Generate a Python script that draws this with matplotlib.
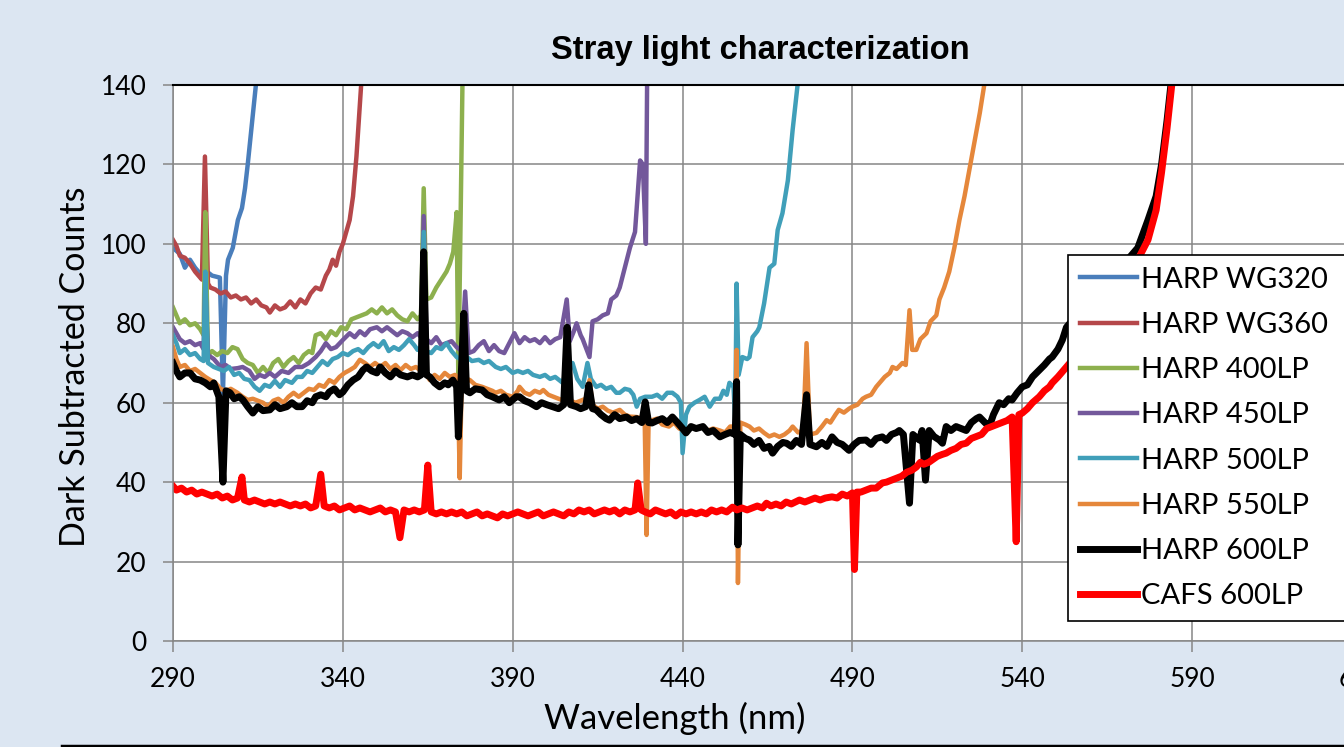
import matplotlib
matplotlib.use("Agg")
import matplotlib.pyplot as plt
from matplotlib.lines import Line2D

# --- data (wavelength nm, dark subtracted counts) ---
wg320_wl = [290, 292, 293.5, 295, 296.5, 298, 300, 301.5, 303.8, 304.7, 305.6, 306.2, 307.6, 309.1,
            310.3, 311.2, 312, 313.2, 314.4, 315.5]
wg320_val = [99, 97.5, 94, 96, 94, 92.5, 93, 92, 91.5, 62, 92, 96, 99, 106, 109, 114, 120, 130, 140, 148]

wg360_wl = [290, 291, 292, 293.5, 295, 296.5, 297.5, 298.5, 299.4, 300.3, 301, 302.5, 304, 305.5, 307,
            308.5, 310, 311.5, 313, 314.5, 316, 317.5, 318.5, 320, 321.5, 323, 324.5, 326, 327.5, 329,
            330.5, 332, 333.5, 335, 336, 337, 338, 339, 340, 341, 342, 343, 344, 345, 346]
wg360_val = [101, 99.5, 97, 96.5, 95, 93, 92, 91, 122, 90, 89, 88.5, 87.5, 88, 86.5,
             87, 86, 86.5, 85, 86, 84.5, 84, 82.7, 84.5, 83.5, 84, 85.5, 84, 86, 85,
             87.5, 89, 88.5, 92, 93.5, 96, 94.5, 98, 100, 103, 106, 112, 122, 135, 148]

lp400_wl = [290, 291, 292, 293.5, 295, 296.5, 298, 299, 299.5, 300.3, 301.5, 303, 304.5, 306, 307.5,
            309, 310.5, 312, 313.5, 315, 316.5, 318, 319.5, 321, 322.5, 324, 325.5, 327, 328.5, 330,
            331, 332, 333.5, 335, 336.5, 338, 339.5, 341, 342.5, 344, 345.5, 347, 348.5, 350, 351.5,
            353, 354.5, 356, 357.5, 359, 360.5, 362, 363, 363.8, 364.6, 366, 367.5, 369, 370.5, 371.5,
            372.5, 373.5, 374, 375.2, 376]
lp400_val = [84, 82, 80, 81, 79.5, 80, 78.5, 77, 108, 72, 73, 72, 73, 72.5, 74,
             73.5, 71, 70, 69.5, 67.5, 69, 67.5, 70, 71, 69, 70.5, 71.5, 70, 72, 73,
             72.5, 77, 77.5, 76, 78, 77, 79, 78.5, 81, 81.5, 82, 82.5, 83.5, 82.5, 84,
             82.5, 83.5, 82, 81, 80.5, 82.5, 81, 82, 114, 86, 86.5, 89, 91, 93, 95,
             98, 108, 65, 140, 160]

lp450_wl = [290, 291, 292, 293.5, 295, 296.5, 298, 299, 299.5, 300.3, 302, 304, 305.5, 307, 309,
            310.5, 312.5, 314, 315.5, 317, 318.5, 320, 322, 324, 326, 328, 330, 332, 333.5, 335,
            336.5, 338, 340, 342, 343.5, 345, 346.5, 348, 350, 351.5, 353, 354.5, 356, 357.5, 359,
            360.5, 362, 363, 363.8, 364.6, 366, 367.5, 369, 370.5, 372, 373.5, 375, 376, 377, 378.5,
            380, 381.5, 383, 384.5, 386, 387.5, 389, 390.5, 392, 393.5, 395, 396.5, 398, 399.5, 401,
            402.5, 404, 405.9, 406.8, 408, 408.8, 410, 410.6, 412.6, 413.5, 415, 416.5, 418, 419, 420.5,
            421.5, 423, 424.5, 426, 427.5, 428.3, 429.2, 429.6]
lp450_val = [79, 77.5, 76, 75, 75.5, 74.5, 75, 73.5, 90, 72, 71, 69, 69.5, 68.5, 68.7,
             69, 68, 66, 67, 66.5, 67.5, 66.5, 68, 67.5, 69, 69, 70, 71.5, 73, 75,
             73.5, 74, 75.8, 77.5, 76.5, 78, 77, 78.5, 79, 78, 79, 78, 77, 78, 77.5,
             76.5, 77.5, 76.5, 107, 76, 75, 76.5, 74.5, 75, 75.5, 74, 73, 88, 72.5, 73,
             74.5, 75.5, 73, 74.5, 73, 72.5, 75, 77.5, 75, 76.5, 75.5, 76, 75, 76.5, 75,
             76, 76.5, 86, 75.5, 78, 80, 77, 76, 71.5, 80.5, 81, 82, 82.5, 86, 87,
             89, 94, 99, 103, 121, 120, 100, 145]

lp500_wl = [290, 291, 292, 293.5, 295, 296.5, 298, 299, 299.5, 300.3, 302, 303.5, 305, 306.5, 308,
            309.5, 311, 312.5, 314, 315.5, 317, 318.5, 320, 321.5, 323, 325, 326.5, 328, 329.5, 331,
            332.5, 334, 335.5, 337, 338.5, 340, 341.5, 343, 344.5, 346, 347.5, 349, 350.5, 352, 353.5,
            355, 356.5, 358, 359.5, 361, 362, 363, 363.8, 364.6, 366, 367.5, 369, 370.5, 372, 373.5,
            375, 376.5, 378, 380, 381.5, 383, 385, 386.5, 388, 390, 391.5, 393, 394.5, 396, 398,
            399.5, 401, 402.5, 404.7, 406, 407.6, 409, 410.6, 412, 413, 414.6, 416, 417.5, 419, 420.5,
            421.5, 423, 424.4, 425.5, 426.5, 427.5, 429, 431, 432.5, 434, 435.5, 437, 438.5, 439.5, 440,
            441, 442, 443.5, 445, 446.5, 448, 449.5, 451, 452, 453, 453.8, 455, 455.5, 455.9, 456.5,
            457.6, 459, 459.7, 460.6, 462, 462.6, 464, 465.6, 467, 468, 469.4, 471, 472.4, 473.8, 475]
lp500_val = [77, 75, 72.5, 73.5, 72, 72.5, 71, 70.5, 93, 70, 69, 68.5, 68, 69, 67,
             67.5, 66, 65.7, 64, 63, 64.5, 64, 65.5, 64, 65.7, 65, 66.5, 66.5, 68, 67.5,
             69, 70.5, 69.5, 71, 71.5, 72.5, 72, 73, 73.5, 72.5, 74, 75, 74, 75.5, 73,
             74, 73.3, 74.5, 76, 74.5, 73.3, 74, 103, 73, 72.5, 74, 73.5, 75, 73, 71.5,
             70.8, 71.5, 70.5, 70.8, 70, 70.5, 69, 68.5, 69, 67.5, 68, 67.5, 68, 67, 66.5,
             67, 66, 66.5, 65, 69, 70, 66, 64, 70, 66, 64, 64.5, 63.5, 64, 62.5,
             62.5, 63.5, 63.2, 62, 59, 61, 61.5, 61.5, 62, 61, 62.5, 62.5, 61.5, 60, 47.3,
             57, 59, 60, 60.7, 61.5, 59, 61, 61, 63, 62, 65, 64, 55, 90, 67,
             71.5, 71, 71.5, 76.5, 78, 79, 85, 94, 95, 103.5, 107.7, 116, 128.7, 139.6, 150]

lp550_wl = [290, 291, 292, 293.5, 295, 296.5, 298, 299.5, 301, 302.5, 304, 305.5, 307, 309, 310.5,
            312, 313.5, 315, 316.5, 318, 319.5, 321, 322.5, 324, 325.5, 327, 328.5, 330, 331.5, 333,
            334.5, 336, 337.5, 339, 340.5, 342, 343.5, 345, 346.5, 348, 349.5, 351, 352.5, 354, 355.5,
            357, 358.5, 360, 361.5, 363, 363.8, 364.6, 365.6, 367, 368.5, 370, 371.5, 373, 373.8, 374.4,
            375, 375.6, 376.5, 377.4, 379, 381, 382.5, 384, 385, 386.5, 388, 390, 391.5, 392, 393.5,
            395, 396.5, 398, 399, 400.5, 402, 403.5, 405, 406, 407, 408.5, 410, 411.5, 412.6, 413.5,
            415, 416.5, 418, 419.5, 421.5, 423, 424.5, 426.5, 428, 428.8, 429.4, 430, 431, 432.5, 434,
            436, 437.5, 439, 441, 442.5, 444, 446, 447.5, 449, 451, 452.5, 454, 455.5, 455.9, 456.3,
            457, 458.5, 459.7, 461, 462.5, 464, 465.5, 467, 468.5, 470, 471.5, 472.4, 474, 475.5, 476.5,
            477.5, 479.4, 481, 482.4, 483.5, 485, 486, 487.5, 489, 490, 491.5, 493, 494, 495.5, 497,
            498, 499.5, 501, 501.8, 503, 504.7, 505.7, 506.8, 507.6, 508.8, 510, 511.8, 513, 514.7, 515.6,
            517, 518.5, 520, 521.5, 523, 524.4, 526, 527.5, 528.8, 530]
lp550_val = [74, 71, 69, 69.5, 68, 68.5, 67.5, 66.5, 65.7, 65, 63.5, 63, 63.5, 62.5, 61.5,
             60.7, 61, 60.5, 60, 59, 60.5, 61, 60, 61.5, 62.5, 61.5, 62.5, 63.5, 63.2, 64.5,
             64, 65.7, 65, 66.5, 67.5, 68.2, 69, 70.8, 70, 69, 70, 69, 70, 68.5, 69.5,
             68.2, 69.5, 68.5, 69, 68, 97, 67, 65.7, 67, 66, 67.5, 66.5, 67, 66.5, 41,
             66, 80, 66, 65.7, 64.5, 64, 63.5, 63, 62.5, 63, 62, 61.5, 63, 64, 62.5,
             62, 63, 62.5, 63.2, 62, 61.5, 61, 60.5, 76, 60.5, 60, 60.5, 61, 65.7, 59.5,
             58.5, 59, 58, 57.5, 58.2, 57, 56.5, 56.4, 56, 58, 26.7, 55, 55.6, 56, 54.5,
             54, 55, 53.5, 53, 54, 53.5, 54, 53, 53.5, 53, 52.5, 54, 54, 73.3, 14.6,
             55, 54.5, 54, 53, 53.5, 52.4, 51.5, 52, 51.4, 52, 53, 54, 52.5, 53, 75,
             52, 52.4, 54, 55.6, 55, 57, 58.2, 57.5, 58.5, 59, 59.5, 61, 61.5, 62, 64,
             65, 66.5, 67.5, 69, 68.5, 70, 69.5, 83.3, 73.3, 73.3, 76, 77.5, 80.5, 82, 86,
             89, 93, 99, 106, 112, 118.6, 126, 133, 140, 147]

lp600_wl = [290, 291, 292, 293.5, 295, 296.5, 298, 299.5, 301, 302, 303.5, 304.7, 305.6, 306.8, 308,
            309.5, 310.6, 312, 313.5, 315, 316.5, 318.5, 320, 321.5, 323.5, 325, 326.5, 328, 329.5, 331,
            332, 333.5, 335, 336, 337.5, 339, 340, 341.5, 343, 344.5, 345.9, 347, 348.5, 350, 351,
            352.5, 354, 355.5, 357, 359, 360.5, 362, 363, 363.8, 364.6, 365.6, 367, 368.5, 370, 371,
            372.4, 373.5, 374, 374.7, 375.6, 376.4, 377.4, 379, 381, 382.5, 384, 386, 387.5, 389, 391,
            392, 393.5, 395, 397, 398.5, 400, 401.8, 403.5, 405, 406, 407, 408.8, 410, 411.5, 412.4,
            413.5, 414.6, 416, 417.5, 418.5, 420, 421.5, 423.5, 425, 426.5, 428, 429, 430, 431, 432.5,
            434, 435.5, 437, 438.5, 440, 441, 442.5, 444, 446, 447.5, 449, 451, 452.5, 454, 455.5,
            455.9, 456.3, 457, 458.5, 459.7, 461, 462.5, 464, 465.5, 466.5, 468, 469.5, 470.6, 472, 473.5,
            475, 476.5, 477.5, 479.4, 481, 482.5, 484, 485.5, 487, 489, 490.5, 492, 494, 495.5, 497,
            498.8, 500, 501.5, 503, 503.8, 505, 506.8, 507.8, 509.7, 510.5, 511.5, 512.6, 514, 515.6, 516.5,
            517.6, 519, 520.5, 522, 523.5, 525, 526.5, 527.4, 529, 530.3, 531.5, 533.2, 534.5, 536, 537,
            538.5, 540, 541.5, 543, 545, 546.5, 548, 548.8, 550.5, 551.8, 553, 556, 560, 565, 570,
            574, 577, 579.4, 581, 582.6, 584, 586]
lp600_val = [70, 68, 66.5, 67.5, 67.5, 66, 65.7, 65, 64, 65, 61.5, 40, 63, 62.5, 61,
             61.5, 60.7, 59, 57.4, 59, 58, 58.2, 59.5, 58.5, 59, 60, 59, 59, 60.5, 60,
             61.5, 62, 61.5, 62.7, 63.5, 62, 62.7, 64.5, 65.7, 66.5, 68.2, 69, 68, 67.5, 69,
             67.5, 66.5, 68, 67, 66.5, 67, 66.5, 67, 98, 67, 66.5, 65, 64, 65, 64.5,
             65.7, 64, 51.4, 64, 82.5, 63, 62.5, 63.5, 63.2, 62, 61.5, 60.7, 61.5, 60, 61.5,
             61.5, 60.5, 60, 59, 60, 59.5, 59, 58.5, 59.5, 79, 59.5, 59, 58.5, 59, 64.5,
             58.5, 58.2, 57, 56, 55.6, 57, 56, 56.4, 55.5, 56, 55, 60.2, 55, 54.9, 55.5,
             56, 55, 56.4, 55, 53.5, 52.4, 54, 53.5, 54, 52.5, 53, 51.4, 52, 52.5, 52,
             65.3, 24.2, 52, 51, 50.6, 49.5, 50.5, 48.5, 49, 47.3, 49, 50, 49.8, 49, 50.5,
             49.5, 62, 49.5, 48.9, 50, 49, 51.4, 50, 49.5, 48, 49.5, 50.5, 50.6, 49.5, 51,
             51.4, 50.5, 52, 52.5, 53, 52, 34.7, 52, 50.6, 53, 40.5, 53, 51.5, 50.6, 49.8,
             54, 53, 54, 53.5, 53, 55, 56, 56.4, 55, 54, 57, 60, 59.5, 61, 60.7,
             62.5, 64, 64.5, 66.5, 68.2, 69.5, 71, 71.5, 73.5, 75.8, 79, 82, 86, 91, 95,
             99, 106, 112, 120, 131, 142, 154]

cafs_wl = [290, 291, 292.5, 294, 295.5, 297, 298.5, 300, 301.5, 303, 304.5, 306, 307.5, 309, 310.3,
           311, 312.5, 314, 315.5, 317, 318.5, 320, 321.5, 323, 324.5, 326, 327.5, 329, 330.5, 332,
           333.5, 334.5, 336, 337.5, 339, 340.5, 342, 343.5, 345, 346.5, 348, 349.5, 351, 352.5, 354,
           355.5, 356.8, 358, 359.5, 361, 362.5, 364, 365, 366, 367.5, 369, 370.5, 372, 373.5, 375,
           376.5, 378, 379.5, 381, 382.5, 384, 385.5, 387, 388.5, 390, 391.5, 393, 394.5, 396, 397.5,
           399, 400.5, 402, 403.5, 405, 406.5, 408, 409.5, 411, 412.5, 414, 415.5, 417, 418.5, 420,
           421.5, 423, 424.5, 426, 426.8, 427.8, 429, 430.5, 432, 433.5, 435, 436.5, 438, 439.5, 441,
           442.5, 444, 445.5, 447, 448.5, 450, 451.5, 453, 454.7, 456, 457.5, 459, 460.5, 462, 463.5,
           464.7, 466, 467.5, 469, 470.5, 472, 474.4, 476, 477.5, 479, 480.5, 482, 484, 485.5, 487,
           488.5, 490, 490.6, 491.3, 492.5, 494, 495.5, 497, 498.8, 500, 501.5, 503, 504.5, 506, 507.5,
           508.8, 510, 511, 512.5, 513.5, 515, 516.5, 517.6, 519, 520.5, 522, 523.5, 525, 526.5, 528,
           529.5, 531, 532.5, 534, 535.5, 537, 538.2, 539, 540, 541.5, 543, 545, 546.5, 548, 548.8,
           550.5, 552, 553, 556, 560, 565, 570, 574, 577, 579.4, 581, 582.6, 584, 586]
cafs_val = [39, 38, 38.5, 37.5, 38, 37, 37.5, 37, 36.5, 37, 36, 36.5, 35.5, 36, 41.3,
            35.5, 35, 35.5, 35, 34.5, 35, 34.5, 35, 34.5, 34, 34.5, 34, 34.5, 33.5, 34,
            42, 34, 33.5, 34, 33, 33.5, 34, 33, 33.5, 33, 32.5, 33, 33.5, 32.5, 33,
            32.5, 26, 33, 32.5, 33, 32.5, 33, 44.3, 32.5, 32, 32.5, 32, 32.5, 32, 32.5,
            31.5, 32, 32.5, 31.5, 32, 31.5, 31, 32, 31.5, 32, 32.5, 32, 31.5, 32, 32.5,
            31.5, 32, 32.5, 32, 31.5, 32.5, 32, 33, 32.5, 33, 32, 32.5, 33, 32.5, 33,
            32, 33, 32.5, 33, 39.8, 33, 32.5, 32, 33, 32.5, 32, 32.5, 31.5, 32.5, 32,
            32.5, 32, 32.5, 32, 33, 32.5, 33, 32.5, 33.7, 33, 33.5, 33, 33.5, 34, 33.5,
            34.7, 34, 34.5, 34, 35, 34.5, 35.5, 35, 35.5, 36, 35.5, 36, 36.3, 36, 37,
            36.5, 37.3, 18, 37.5, 37.5, 38, 38.5, 38.5, 39.8, 40, 40.5, 41, 41.5, 42.5, 43,
            43.8, 45, 44.5, 45, 45.6, 46.5, 47, 47.3, 48, 48.5, 49.5, 49.8, 51, 51.5, 52,
            53.5, 54, 54.5, 55, 55.5, 56.4, 25, 57, 57.4, 58.5, 60, 61.5, 63, 64, 65,
            66.5, 68, 69, 72, 77, 84, 90, 96, 101, 108.5, 118, 129, 140, 152]

series_names = ["HARP WG320", "HARP WG360", "HARP 400LP", "HARP 450LP",
                "HARP 500LP", "HARP 550LP", "HARP 600LP", "CAFS 600LP"]
series_colors = ["#4a7ebb", "#b5474a", "#8db04e", "#73589b", "#409fb9", "#e5873b", "#000000", "#ff0000"]
series_widths = [3.2, 3.2, 3.2, 3.2, 3.2, 3.2, 5.0, 5.0]
series_x = [wg320_wl, wg360_wl, lp400_wl, lp450_wl, lp500_wl, lp550_wl, lp600_wl, cafs_wl]
series_y = [wg320_val, wg360_val, lp400_val, lp450_val, lp500_val, lp550_val, lp600_val, cafs_val]

W, H = 1344, 747
fig = plt.figure(figsize=(W / 100, H / 100), dpi=100)
fig.patch.set_facecolor("#dce6f2")

# plot area runs past the right edge of the picture, like the cropped original
x0, x1, y0, y1 = 173, 1362, 85, 641
ax = fig.add_axes([x0 / W, 1 - y1 / H, (x1 - x0) / W, (y1 - y0) / H])
ax.set_facecolor("white")

for xs, ys, c, lw, name in zip(series_x, series_y, series_colors, series_widths, series_names):
    ax.plot(xs, ys, color=c, lw=lw, label=name, solid_joinstyle="round")

ax.set_xlim(290, 640)
ax.set_ylim(0, 140)
ax.set_xticks(range(290, 641, 50))
ax.set_yticks(range(0, 141, 20))
ax.grid(True, color="#868686", lw=1.1)
ax.set_axisbelow(True)

for s in ["left", "bottom"]:
    ax.spines[s].set_color("#868686")
    ax.spines[s].set_linewidth(1.1)
ax.spines["top"].set_color("black")
ax.spines["top"].set_linewidth(1.5)
ax.spines["right"].set_visible(False)

lab_font = "Lato"
ax.tick_params(axis="both", colors="#868686", labelcolor="black", width=1.1, labelsize=19)
ax.tick_params(axis="y", length=7, pad=12)
ax.tick_params(axis="x", length=8, pad=11)
for t in ax.get_xticklabels() + ax.get_yticklabels():
    t.set_fontfamily(lab_font)

ax.set_xlabel("Wavelength (nm)", fontsize=25, family=lab_font)
ax.xaxis.set_label_coords((675 - x0) / (x1 - x0), -(718 - y1) / (y1 - y0), transform=ax.transAxes)
ax.xaxis.label.set_va("center")
ax.set_ylabel("Dark Subtracted Counts", fontsize=24.5, family=lab_font)
ax.yaxis.set_label_coords(-(x0 - 75) / (x1 - x0), (y1 - 367) / (y1 - y0), transform=ax.transAxes)
ax.yaxis.label.set_va("center")
fig.text(760 / W, 1 - 51 / H, "Stray light characterization", ha="center", va="center",
         fontsize=23.5, fontweight="bold", family="Liberation Sans")

leg = fig.legend(loc="upper left", bbox_to_anchor=(1068 / W, 1 - 618 / H, 320 / W, 363 / H), mode="expand",
                 prop={"family": lab_font, "size": 21}, frameon=True, fancybox=False, framealpha=1,
                 edgecolor="black", handlelength=1.95, handletextpad=0.15, labelspacing=0.66,
                 borderpad=0.4, borderaxespad=0)
leg.get_frame().set_linewidth(1.2)

# stray rule along the bottom of the original screenshot
fig.add_artist(Line2D([62 / W, 1], [1.5 / H, 1.5 / H], color="black", lw=2.5))

fig.savefig("out.png", dpi=100, facecolor=fig.get_facecolor())
